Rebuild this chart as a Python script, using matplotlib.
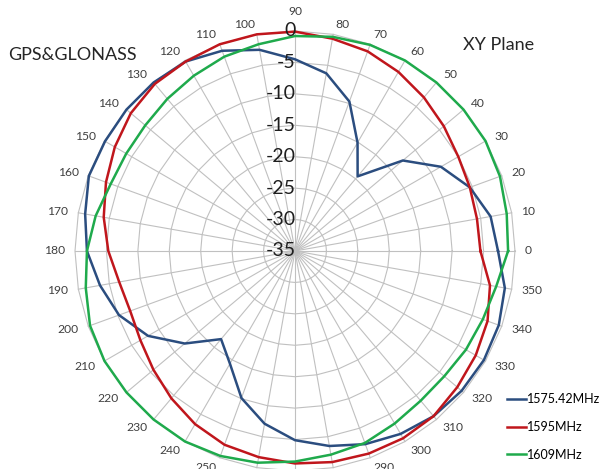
import numpy as np
import matplotlib
matplotlib.use("Agg")
import matplotlib.pyplot as plt
from matplotlib.transforms import offset_copy

# angles of the radar categories (deg), counter-clockwise from east
angles_deg = list(range(0, 360, 10))

# gain values (dB), one per angle
gain_1575 = [-2.7, -3.4, -5.4, -8.2, -12.6, -19.5, -15.1, -9.7, -6.3, -4.5,
             -2.5, -1.1, -0.2, 0.0, 0.0, -0.1, -0.1, -1.1, -1.9, -3.5,
             -5.2, -8.0, -12.1, -16.7, -14.3, -10.1, -7.1, -4.9, -3.5, -2.3,
             -1.4, -0.7, -0.4, -0.3, -0.5, -1.1]
gain_1595 = [-5.5, -5.6, -5.4, -5.0, -4.1, -3.1, -2.1, -1.2, -0.7, -0.1,
             0.0, 0.0, -0.2, -0.3, -0.9, -1.9, -3.0, -4.1, -5.3, -6.6,
             -7.1, -6.6, -5.6, -4.4, -3.2, -2.2, -1.7, -1.2, -0.9, -0.7,
             -0.6, -0.7, -1.3, -1.8, -2.4, -3.5]
gain_1609 = [-1.1, -0.8, -0.3, 0.0, 0.0, 0.0, 0.0, -0.1, -0.4, -0.8,
             -1.6, -2.1, -2.8, -3.4, -3.9, -4.0, -3.8, -2.8, -1.9, -1.2,
             -0.3, 0.0, 0.0, 0.0, 0.0, -0.3, -0.8, -1.5, -2.1, -2.5,
             -3.3, -3.9, -4.0, -3.6, -3.2, -2.5]

ring_levels = [-35, -30, -25, -20, -15, -10, -5, 0]
series_names = ["1575.42MHz", "1595MHz", "1609MHz"]
series_colors = ["#2b4d7f", "#c0161c", "#1faa4c"]
grid_color = "#c0c0c0"

plt.rcParams['font.family'] = ['Lato', 'DejaVu Sans']

fig = plt.figure(figsize=(6.01, 4.69), dpi=100)
# centre of the radar at (295, 251) px, outer ring radius 220 px
ax = fig.add_axes([75 / 601, (469 - 251 - 220) / 469, 440 / 601, 440 / 469],
                  projection='polar')
ax.set_ylim(ring_levels[0], ring_levels[-1])
ax.grid(False)
ax.spines['polar'].set_visible(False)
ax.set_yticks([])
ax.set_xticks([])

theta = np.deg2rad(angles_deg)
closed = np.append(theta, theta[0])

# polygon rings and spokes, excel style
for lev in ring_levels[1:]:
    ax.plot(closed, [lev] * len(closed), color=grid_color, lw=0.8,
            zorder=1, clip_on=False)
for t in theta:
    ax.plot([t, t], [ring_levels[0], ring_levels[-1]], color=grid_color,
            lw=0.8, zorder=1, clip_on=False)

for vals, name, col in zip([gain_1575, gain_1595, gain_1609], series_names, series_colors):
    ax.plot(closed, np.append(vals, vals[0]), color=col, lw=1.8,
            label=name, zorder=3, clip_on=False)

# angle labels: excel anchors them ~10px past the spoke end,
# left/right aligned depending on side, vertically centred
for a, t in zip(angles_deg, theta):
    c, s = np.cos(t), np.sin(t)
    if abs(c) < 1e-6:
        ha, va, d = 'center', ('bottom' if s > 0 else 'top'), 14
    else:
        ha, va, d = ('left' if c > 0 else 'right'), 'center', 10
    tr = offset_copy(ax.transData, fig=fig, x=d * c, y=d * s, units='dots')
    ax.text(t, ring_levels[-1], str(a), transform=tr, ha=ha, va=va,
            fontsize=8.7, color='#404040', clip_on=False)

# radial labels, right aligned against the 90 degree spoke
for lev in ring_levels:
    tr = offset_copy(ax.transData, fig=fig, x=1, y=0, units='dots')
    ax.text(np.pi / 2, lev, str(lev), transform=tr, ha='right', va='center',
            fontsize=14, color='#1e1e1e', zorder=5)

fig.text(8 / 601, 1 - 55 / 469, "GPS&GLONASS", ha='left', va='center',
         fontsize=13, color='#262626')
fig.text(463 / 601, 1 - 45 / 469, "XY Plane", ha='left', va='center',
         fontsize=13, color='#262626')

fig.legend(loc='center left', bbox_to_anchor=(507 / 601, 42 / 469),
           frameon=False, fontsize=9, handlelength=1.5, handletextpad=0.1,
           labelspacing=1.25, borderpad=0, borderaxespad=0)

fig.savefig("out.png", dpi=100)
